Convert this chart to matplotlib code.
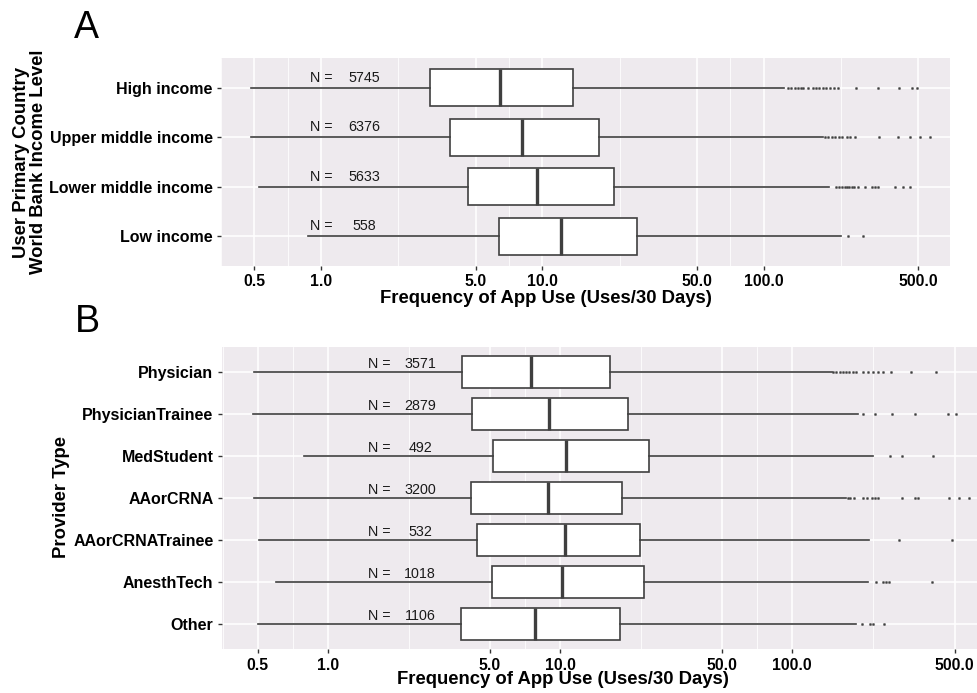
import matplotlib
matplotlib.use('Agg')
import matplotlib.pyplot as plt
from matplotlib.ticker import FixedLocator, FixedFormatter, NullFormatter

plt.rcParams['font.family'] = ['Liberation Sans', 'DejaVu Sans']

# Panel A: world bank income level of the user's primary country
INCOME_LEVELS = ['High income', 'Upper middle income', 'Lower middle income', 'Low income']
INCOME_N = [5745, 6376, 5633, 558]
INCOME_WHISLO = [0.483, 0.481, 0.526, 0.877]
INCOME_Q1 = [3.11, 3.83, 4.63, 6.37]
INCOME_MED = [6.44, 8.12, 9.43, 12.2]
INCOME_Q3 = [13.7, 18.1, 21.1, 26.8]
INCOME_WHISHI = [124, 186, 198, 224]
INCOME_FLIERS = [
    [129, 133, 138, 143, 148, 151, 158, 167, 172, 178, 185, 192, 199, 207, 217,
     261, 327, 409, 470, 492],
    [189, 196, 203, 210, 218, 225, 238, 246, 259, 332, 403, 459, 509, 565],
    [212, 218, 225, 232, 238, 243, 250, 257, 267, 287, 308, 318, 330, 393, 425, 459],
    [240, 282],
]

# Panel B: provider type
PROVIDER_TYPES = ['Physician', 'PhysicianTrainee', 'MedStudent', 'AAorCRNA',
                  'AAorCRNATrainee', 'AnesthTech', 'Other']
PROVIDER_N = [3571, 2879, 492, 3200, 532, 1018, 1106]
PROVIDER_WHISLO = [0.482, 0.478, 0.793, 0.482, 0.506, 0.597, 0.503]
PROVIDER_Q1 = [3.80, 4.19, 5.16, 4.14, 4.38, 5.11, 3.76]
PROVIDER_MED = [7.48, 8.97, 10.6, 8.85, 10.5, 10.2, 7.80]
PROVIDER_Q3 = [16.4, 19.6, 24.2, 18.5, 22.2, 23.0, 18.1]
PROVIDER_WHISHI = [148, 191, 222, 171, 215, 212, 188]
PROVIDER_FLIERS = [
    [150, 155, 160, 165, 170, 176, 182, 189, 202, 212, 222, 233, 246, 265, 324, 415],
    [202, 226, 269, 337, 469, 507],
    [263, 296, 405],
    [173, 178, 185, 202, 210, 220, 228, 235, 296, 337, 349, 474, 522, 578],
    [288, 486],
    [229, 246, 254, 262, 401],
    [199, 216, 223, 249],
]

X_MAJOR = [0.5, 1.0, 5.0, 10.0, 50.0, 100.0, 500.0]
X_MINOR = [0.354, 0.707, 2.236, 7.071, 22.36, 70.71, 223.6, 707.1]
X_LABELS = ['0.5', '1.0', '5.0', '10.0', '50.0', '100.0', '500.0']

BG = '#EEEAEE'
LINE = '#3f3f3f'


def _panel(ax, cats, n, whislo, q1, med, q3, whishi, fliers, xlim, n_x, num_x):
  k = len(cats)
  pos = list(range(k, 0, -1))
  stats = []
  for i in range(k):
    stats.append(dict(whislo=whislo[i], q1=q1[i], med=med[i], q3=q3[i],
                      whishi=whishi[i], fliers=fliers[i]))
  ax.set_facecolor(BG)
  ax.set_xscale('log')
  ax.xaxis.set_major_locator(FixedLocator(X_MAJOR))
  ax.xaxis.set_major_formatter(FixedFormatter(X_LABELS))
  ax.xaxis.set_minor_locator(FixedLocator(X_MINOR))
  ax.xaxis.set_minor_formatter(NullFormatter())
  ax.grid(True, which='major', axis='both', color='white', lw=1.1, zorder=0)
  ax.grid(True, which='minor', axis='x', color='white', lw=0.55, zorder=0)
  ax.set_axisbelow(True)
  ax.bxp(stats, positions=pos, vert=False, widths=0.75, showcaps=False,
         patch_artist=True,
         boxprops=dict(facecolor='white', edgecolor=LINE, lw=1.2),
         whiskerprops=dict(color=LINE, lw=1.2),
         medianprops=dict(color=LINE, lw=2.4),
         flierprops=dict(marker='s', markersize=1.2, markerfacecolor=LINE,
                         markeredgecolor=LINE, markeredgewidth=0.4,
                         linestyle='none'))
  for i in range(k):
    ax.text(n_x, pos[i] + 0.2, 'N =', ha='left', va='center', fontsize=10.3,
            color='#1a1a1a')
    ax.text(num_x, pos[i] + 0.2, str(n[i]), ha='center', va='center',
            fontsize=10.3, color='#1a1a1a')
  ax.set_yticks(pos)
  ax.set_yticklabels(cats, fontsize=11.5, fontweight='bold')
  ax.set_xlim(*xlim)
  ax.set_ylim(0.4, k + 0.6)
  for lbl in ax.get_xticklabels():
    lbl.set_fontweight('bold')
    lbl.set_fontsize(11.3)
  ax.tick_params(axis='both', which='major', length=3, width=1, color='#333333',
                 labelcolor='black', pad=3)
  ax.tick_params(axis='x', which='minor', length=0)
  for s in ax.spines.values():
    s.set_visible(False)


W, H = 977, 693
fig = plt.figure(figsize=(W / 100, H / 100), dpi=100)

ax_a = fig.add_axes([221 / W, 1 - 266 / H, (950 - 221) / W, (266 - 58) / H])
_panel(ax_a, INCOME_LEVELS, INCOME_N, INCOME_WHISLO, INCOME_Q1, INCOME_MED,
       INCOME_Q3, INCOME_WHISHI, INCOME_FLIERS, (0.353, 695), 0.892, 1.564)

ax_b = fig.add_axes([221.7 / W, 1 - 649.3 / H, (977 - 221.7) / W, (649.3 - 346.7) / H])
_panel(ax_b, PROVIDER_TYPES, PROVIDER_N, PROVIDER_WHISLO, PROVIDER_Q1, PROVIDER_MED,
       PROVIDER_Q3, PROVIDER_WHISHI, PROVIDER_FLIERS, (0.350, 624), 1.496, 2.50)

fig.text(74 / W, 1 - 38.3 / H, 'A', fontsize=27, ha='left', va='baseline')
fig.text(75 / W, 1 - 331.7 / H, 'B', fontsize=27, ha='left', va='baseline')

fig.text(546 / W, 1 - 303.5 / H, 'Frequency of App Use (Uses/30 Days)',
         fontsize=13.3, fontweight='bold', ha='center', va='baseline')
fig.text(563 / W, 1 - 684.5 / H, 'Frequency of App Use (Uses/30 Days)',
         fontsize=13.3, fontweight='bold', ha='center', va='baseline')

fig.text(30 / W, 1 - 162 / H, 'User Primary Country\nWorld Bank Income Level',
         fontsize=13.3, fontweight='bold', rotation=90, ha='center', va='center',
         multialignment='center', linespacing=1.0)
fig.text(61 / W, 1 - 497 / H, 'Provider Type', fontsize=13.3, fontweight='bold',
         rotation=90, ha='center', va='center')

fig.savefig('out.png', dpi=100, facecolor='white')
